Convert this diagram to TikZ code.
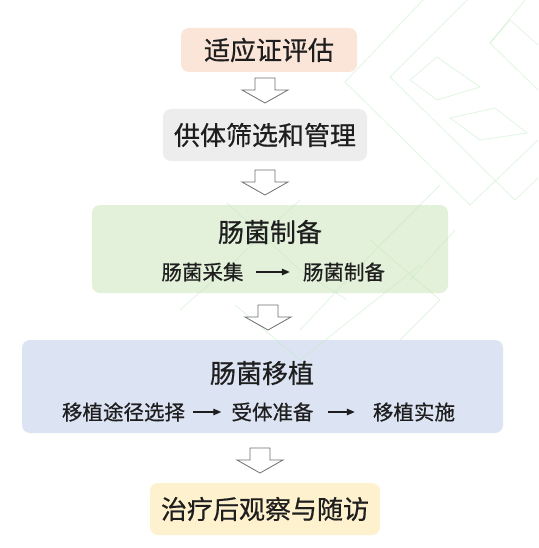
\documentclass[tikz,border=0pt]{standalone}
\usepackage{fontspec}
\setmainfont{Noto Sans CJK SC}[FakeBold=0.6]
\usetikzlibrary{arrows.meta}
\definecolor{cpeach}{HTML}{FBE5D9}
\definecolor{cgray}{HTML}{EDEDED}
\definecolor{cgreen}{HTML}{E3F0DA}
\definecolor{cblue}{HTML}{DCE4F3}
\definecolor{cyellow}{HTML}{FEF1CD}
\definecolor{ctext}{HTML}{1E1E1E}
\definecolor{cwm}{HTML}{BFEABF}
\definecolor{carrow}{HTML}{707070}
\tikzset{
  box/.style={rounded corners=8pt, inner sep=0pt, text=ctext, font=\fontsize{26}{30}\selectfont},
  title/.style={inner sep=0pt, text=ctext, font=\fontsize{26}{30}\selectfont},
  sub/.style={inner sep=0pt, text=ctext, font=\fontsize{20.5}{24}\selectfont},
  flow/.style={-{Triangle[length=8pt,width=6.5pt]}, line width=1.3pt, ctext},
  harrow/.style={draw=carrow, line width=0.8pt, fill=white},
  wm/.style={draw=cwm, line width=0.8pt, draw opacity=0.45},
  hollow/.pic={\path[harrow] (-10,0) -- (10,0) -- (10,12) -- (23,12) -- (0,25) -- (-23,12) -- (-10,12) -- cycle;}
}
\begin{document}
\begin{tikzpicture}[x=1pt,y=-1pt]
\useasboundingbox (0,0) rectangle (538,548);
\fill[white] (0,0) rectangle (538,548);
% boxes
\node[box, fill=cpeach, minimum width=176pt, minimum height=44pt] (b1) at (269,50) {};
\node[box, fill=cgray, minimum width=204pt, minimum height=52pt] (b2) at (265,135) {};
\node[box, fill=cgreen, minimum width=356pt, minimum height=88pt] (b3) at (270,249) {};
\node[box, fill=cblue, minimum width=481pt, minimum height=93pt] (b4) at (262.5,386.5) {};
\node[box, fill=cyellow, minimum width=230pt, minimum height=52pt] (b5) at (265,509) {};
% watermark lines
\draw[wm] (423,0) -- (345,82) -- (470,205);
\draw[wm] (467,0) -- (390,77) -- (515,200);
\draw[wm] (410,80) -- (437,57) -- (480,87) -- (437,100) -- cycle;
\draw[wm] (450,118) -- (495,108) -- (527,133) -- (480,140) -- cycle;
\draw[wm] (490,43) -- (510,20) -- (538,45);
\draw[wm] (525,0) -- (490,43) -- (538,90);
\draw[wm] (470,205) -- (538,140);
\draw[wm] (515,200) -- (538,178);
\draw[wm] (227,203) -- (300,270) -- (347,300);
\draw[wm] (440,185) -- (380,245) -- (300,330);
\draw[wm] (235,305) -- (300,360) -- (420,265);
\draw[wm] (370,240) -- (440,300) -- (400,340);
\draw[wm] (455,230) -- (410,280);
\draw[wm] (180,310) -- (225,270) -- (300,200);
% titles
\node[title] (t1) at (b1) {适应证评估};
\node[title] (t2) at (b2) {供体筛选和管理};
\node[title] (t5) at (b5) {治疗后观察与随访};
% box 3 contents
\node[title] (t3) at (270,232) {肠菌制备};
\node[sub] (s31) at (202.5,272) {肠菌采集};
\node[sub] (s32) at (344,272) {肠菌制备};
\draw[flow, shorten <=12pt, shorten >=13pt] (s31.east) -- (s32.west);
% box 4 contents
\node[title] (t4) at (262,373) {肠菌移植};
\node[sub] (s41) at (123.5,412) {移植途径选择};
\node[sub] (s42) at (272.5,412) {受体准备};
\node[sub] (s43) at (414,412) {移植实施};
\draw[flow, shorten <=8pt, shorten >=10pt] (s41.east) -- (s42.west);
\draw[flow, shorten <=14pt, shorten >=18pt] (s42.east) -- (s43.west);
% hollow arrows
\pic at (265,78) {hollow};
\pic at (265,170) {hollow};
\pic at (268,305) {hollow};
\pic at (260,448) {hollow};
\end{tikzpicture}
\end{document}
